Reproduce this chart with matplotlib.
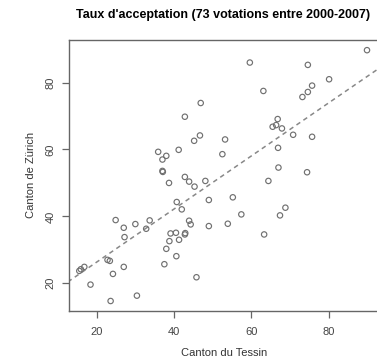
import numpy as np
import matplotlib
matplotlib.use("Agg")
import matplotlib.pyplot as plt

plt.rcParams['font.family'] = ['Liberation Sans', 'DejaVu Sans']

# taux d'acceptation (%) par votation
tessin = [46.9, 42.8, 46.7, 45.2, 35.9, 41.2, 38.0, 37.0, 37.0, 37.1,
          42.8, 43.9, 45.3, 48.1, 38.7, 52.5, 49.0, 89.9, 59.6, 74.6,
          80.1, 75.7, 74.6, 73.2, 63.1, 66.8, 65.5, 66.4, 67.9, 70.8,
          75.7, 53.2, 66.9, 67.0, 74.4, 64.4, 55.2, 40.7, 42.0, 24.9,
          30.0, 33.7, 27.0, 32.8, 43.9, 44.3, 49.0, 39.1, 40.5, 42.8,
          42.9, 27.2, 38.8, 41.3, 38.0, 40.6, 22.8, 23.4, 37.5, 16.8,
          15.9, 15.5, 27.0, 24.2, 45.8, 18.4, 30.4, 23.6, 57.4, 68.8,
          67.4, 53.9, 63.3]
zurich = [73.9, 69.8, 64.2, 62.6, 59.3, 59.9, 58.1, 57.0, 53.6, 53.3,
          51.8, 50.4, 48.9, 50.6, 50.0, 58.6, 44.9, 89.7, 86.0, 85.3,
          81.0, 79.1, 77.2, 75.7, 77.5, 69.1, 66.8, 67.3, 66.3, 64.4,
          63.8, 63.0, 60.5, 54.6, 53.2, 50.6, 45.7, 44.3, 42.1, 38.9,
          37.7, 38.8, 36.6, 36.3, 38.7, 37.6, 37.1, 34.9, 35.1, 34.6,
          35.0, 33.8, 32.6, 33.0, 30.3, 28.1, 27.0, 26.7, 25.7, 24.9,
          24.2, 23.7, 24.9, 22.8, 21.8, 19.6, 16.3, 14.7, 40.6, 42.6,
          40.3, 37.8, 34.6]

x = np.array(tessin)
y = np.array(zurich)
slope, intercept = np.polyfit(x, y, 1)

fig = plt.figure(figsize=(3.77, 3.6), dpi=100)
ax = fig.add_axes([69 / 377, 1 - 310.7 / 360, 311 / 377, 270.7 / 360])

ax.scatter(x, y, s=15, facecolors='none', edgecolors='#707070', linewidths=0.85, zorder=3)
xx = np.array([0, 100])
ax.plot(xx, intercept + slope * xx, ls=(0, (3, 2.5)), color='#888888', lw=1.1, zorder=2)

ax.set_xlim(12.84, 93.26)
ax.set_ylim(11.8, 92.74)
ax.set_xticks([20, 40, 60, 80])
ax.set_yticks([20, 40, 60, 80])
for lab in ax.get_yticklabels():
    lab.set_rotation(90)
    lab.set_va('center')
ax.tick_params(direction='out', length=5, width=0.9, colors='#666666',
               labelcolor='#444444', labelsize=8)
ax.tick_params(axis='x', pad=7)
ax.tick_params(axis='y', pad=4.5)
for s in ax.spines.values():
    s.set_color('#666666')
    s.set_linewidth(1.0)

ax.set_xlabel('Canton du Tessin', fontsize=8, color='#333333', labelpad=7.5)
ax.set_ylabel('Canton de Zürich', fontsize=8, color='#333333', labelpad=7)
fig.text(223.5 / 377, 1 - 15 / 360, "Taux d'acceptation (73 votations entre 2000-2007)",
         ha='center', va='center', fontsize=9, fontweight='bold')

fig.savefig('out.png', dpi=100)
